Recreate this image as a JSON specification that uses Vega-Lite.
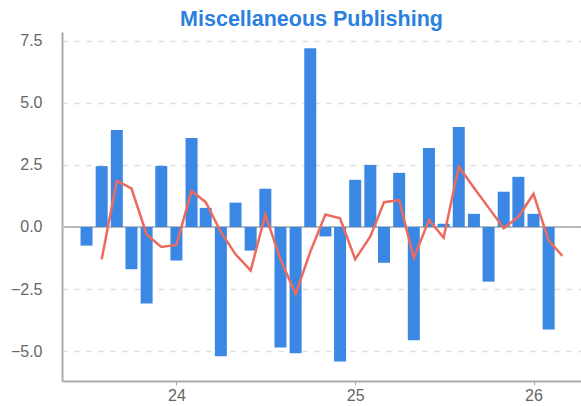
{
  "$schema": "https://vega.github.io/schema/vega-lite/v6.json",
  "width": 519,
  "height": 349,
  "autosize": {"type": "none"},
  "padding": {"left": 62, "top": 32, "right": 0, "bottom": 25},
  "background": "white",
  "title": {
    "text": "Miscellaneous Publishing",
    "fontSize": 21.5,
    "font": "Liberation Sans",
    "fontWeight": "bold",
    "color": "#2b7fde",
    "anchor": "middle",
    "dx": -10,
    "baseline": "alphabetic",
    "offset": 4,
    "dy": 19
  },
  "config": {
    "view": {"stroke": null},
    "axis": {"labelFont": "Liberation Sans", "titleFont": "Liberation Sans"}
  },
  "data": {
    "values": [
      {"month": "2023-07-01", "value": -0.75, "avg": null},
      {"month": "2023-08-01", "value": 2.45, "avg": -1.3},
      {"month": "2023-09-01", "value": 3.9, "avg": 1.86},
      {"month": "2023-10-01", "value": -1.7, "avg": 1.55},
      {"month": "2023-11-01", "value": -3.08, "avg": -0.3},
      {"month": "2023-12-01", "value": 2.46, "avg": -0.8},
      {"month": "2024-01-01", "value": -1.35, "avg": -0.72},
      {"month": "2024-02-01", "value": 3.58, "avg": 1.45},
      {"month": "2024-03-01", "value": 0.77, "avg": 1.0},
      {"month": "2024-04-01", "value": -5.2, "avg": -0.2},
      {"month": "2024-05-01", "value": 0.98, "avg": -1.1},
      {"month": "2024-06-01", "value": -0.95, "avg": -1.75},
      {"month": "2024-07-01", "value": 1.54, "avg": 0.5},
      {"month": "2024-08-01", "value": -4.85, "avg": -1.3},
      {"month": "2024-09-01", "value": -5.08, "avg": -2.7},
      {"month": "2024-10-01", "value": 7.2, "avg": -1.0},
      {"month": "2024-11-01", "value": -0.38, "avg": 0.5},
      {"month": "2024-12-01", "value": -5.42, "avg": 0.35},
      {"month": "2025-01-01", "value": 1.9, "avg": -1.3},
      {"month": "2025-02-01", "value": 2.5, "avg": -0.38},
      {"month": "2025-03-01", "value": -1.44, "avg": 1.0},
      {"month": "2025-04-01", "value": 2.18, "avg": 1.08},
      {"month": "2025-05-01", "value": -4.56, "avg": -1.25},
      {"month": "2025-06-01", "value": 3.18, "avg": 0.28},
      {"month": "2025-07-01", "value": 0.13, "avg": -0.43},
      {"month": "2025-08-01", "value": 4.03, "avg": 2.43},
      {"month": "2025-09-01", "value": 0.53, "avg": 1.58},
      {"month": "2025-10-01", "value": -2.2, "avg": 0.78},
      {"month": "2025-11-01", "value": 1.42, "avg": -0.05},
      {"month": "2025-12-01", "value": 2.02, "avg": 0.41},
      {"month": "2026-01-01", "value": 0.53, "avg": 1.33},
      {"month": "2026-02-01", "value": -4.13, "avg": -0.55},
      {"month": "2026-03-01", "value": null, "avg": -1.16}
    ]
  },
  "encoding": {
    "x": {
      "field": "month",
      "type": "temporal",
      "scale": {"type": "utc", "domain": ["2023-05-22", "2026-03-29"], "nice": false},
      "axis": {
        "title": null,
        "format": "%y",
        "values": ["2024-01-01", "2025-01-01", "2026-01-01"],
        "grid": false,
        "domainColor": "#aaaaaa",
        "domainWidth": 2,
        "tickColor": "#aaaaaa",
        "tickSize": 4,
        "labelFontSize": 16,
        "labelColor": "#666666",
        "labelPadding": 2
      }
    }
  },
  "layer": [
    {
      "mark": {"type": "rule", "color": "#bbbbbb", "strokeWidth": 1.5},
      "encoding": {"y": {"datum": 0, "type": "quantitative"}, "x": {"value": 0}, "x2": {"value": 519}}
    },
    {
      "mark": {"type": "bar", "color": "#3a88e4", "size": 12},
      "encoding": {
        "y": {
          "field": "value",
          "type": "quantitative",
          "scale": {"domain": [-6.2, 7.85], "nice": false, "zero": false},
          "axis": {
            "title": null,
            "values": [-5, -2.5, 0, 2.5, 5, 7.5],
            "format": ".1f",
            "grid": true,
            "gridDash": [5, 7],
            "gridColor": "#dddddd",
            "gridWidth": 1.5,
            "ticks": false,
            "domainColor": "#aaaaaa",
            "domainWidth": 2,
            "labelFontSize": 16,
            "labelColor": "#666666",
            "labelPadding": 20
          }
        }
      }
    },
    {
      "mark": {"type": "line", "color": "#ec6a5e", "strokeWidth": 2.5},
      "encoding": {"y": {"field": "avg", "type": "quantitative"}}
    }
  ]
}
